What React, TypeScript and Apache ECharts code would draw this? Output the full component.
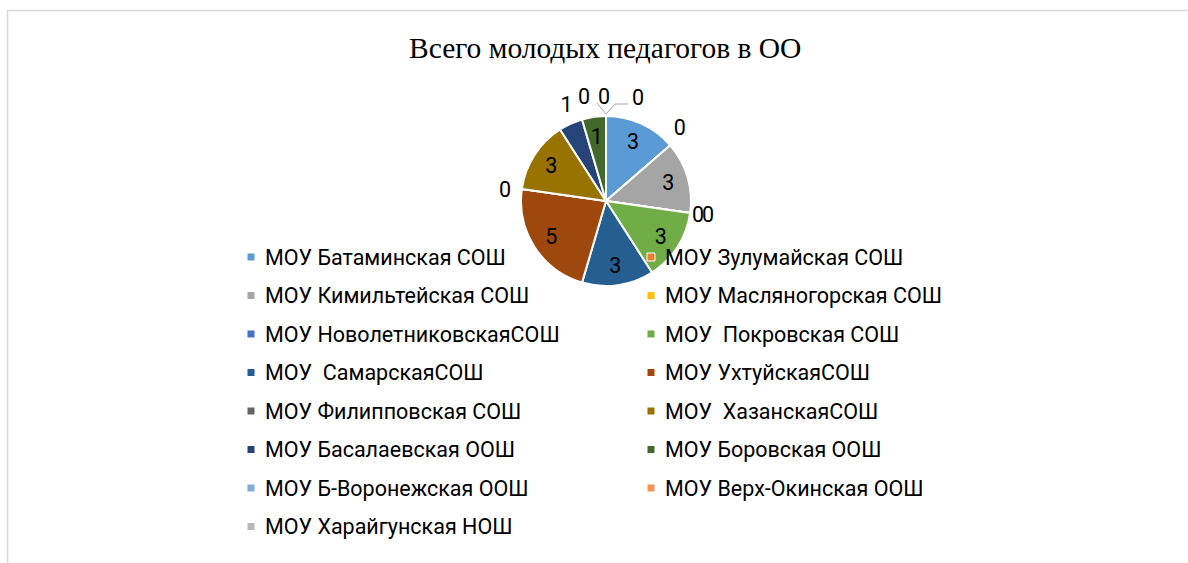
import React, { useEffect, useRef } from "react";
import * as echarts from "echarts";

const titleText = "Всего молодых педагогов в ОО";

const schools = [
  "МОУ Батаминская СОШ",
  "МОУ Зулумайская СОШ",
  "МОУ Кимильтейская СОШ",
  "МОУ Масляногорская СОШ",
  "МОУ НоволетниковскаяСОШ",
  "МОУ  Покровская СОШ",
  "МОУ  СамарскаяСОШ",
  "МОУ УхтуйскаяСОШ",
  "МОУ Филипповская СОШ",
  "МОУ  ХазанскаяСОШ",
  "МОУ Басалаевская ООШ",
  "МОУ Боровская ООШ",
  "МОУ Б-Воронежская ООШ",
  "МОУ Верх-Окинская ООШ",
  "МОУ Харайгунская НОШ",
];

const teachers = [3, 0, 3, 0, 0, 3, 3, 5, 0, 3, 1, 1, 0, 0, 0];

const colors = [
  "#5B9BD5", "#ED7D31", "#A5A5A5", "#FFC000", "#4472C4",
  "#70AD47", "#255E91", "#9E480E", "#636363", "#997300",
  "#264478", "#43682B", "#7CAFDD", "#F1975A", "#B7B7B7",
];

// schools whose value label sits outside the pie although non-zero
const outsideNonZero = ["МОУ Басалаевская ООШ"];

// label placement nudges (px) relative to the default outside label position
const nudges: Record<number, { dx: number; dy: number; top?: boolean }> = {
  1: { dx: -9, dy: -11 },
  3: { dx: -13, dy: 0 },
  4: { dx: -3, dy: 0 },
  8: { dx: 4, dy: 2 },
  10: { dx: 11, dy: -10 },
  12: { dx: -22, dy: -19, top: true },
  13: { dx: -2, dy: -19, top: true },
  14: { dx: 32, dy: -18, top: true },
};

const FONT = "Roboto, 'Noto Sans', sans-serif";

export default function App() {
  const ref = useRef<HTMLDivElement>(null);

  useEffect(() => {
    if (!ref.current) return;
    const chart = echarts.init(ref.current, null, { renderer: "svg" });

    const isOutside = (i: number) =>
      teachers[i] === 0 || outsideNonZero.includes(schools[i]);

    const mainData = schools.map((name, i) => ({
      name,
      value: teachers[i],
      itemStyle: { color: colors[i] },
      label: { show: isOutside(i) },
      labelLine: {
        show: i === 13 || i === 14,
        lineStyle: { color: "#A6A6A6", width: 1 },
      },
    }));

    const overlayData = schools.map((name, i) => ({
      name,
      value: teachers[i],
      label: { show: !isOutside(i) },
    }));

    const leftNames = schools.filter((_, i) => i % 2 === 0);
    const rightNames = schools.filter((_, i) => i % 2 === 1);

    const legendBase = {
      orient: "vertical" as const,
      top: 246,
      padding: 0,
      itemGap: 16.5,
      itemWidth: 8,
      itemHeight: 8,
      icon: "rect",
      selectedMode: false,
      itemStyle: { borderColor: "#fff", borderWidth: 1 },
      textStyle: {
        fontFamily: FONT,
        fontSize: 21.5,
        lineHeight: 22,
        color: "#000",
        padding: [0, 0, 0, 5],
      },
    };

    chart.setOption({
      animation: false,
      backgroundColor: "#fff",
      color: colors,
      title: {
        text: titleText,
        left: 409,
        top: 33,
        padding: 0,
        textStyle: {
          fontFamily: "'Liberation Serif', 'Times New Roman', serif",
          fontSize: 29.5,
          fontWeight: "normal",
          color: "#000",
        },
      },
      legend: [
        { ...legendBase, left: 246.5, data: leftNames },
        { ...legendBase, left: 646.5, data: rightNames },
      ],
      graphic: [
        {
          type: "rect",
          shape: { x: 7.5, y: 10.5, width: 1300, height: 700 },
          style: { fill: "none", stroke: "#D9D9D9", lineWidth: 1.5 },
          silent: true,
        },
      ],
      series: [
        {
          type: "pie",
          center: [606, 201],
          radius: [0, 85],
          startAngle: 90,
          clockwise: true,
          avoidLabelOverlap: false,
          minShowLabelAngle: 0,
          itemStyle: { borderColor: "#fff", borderWidth: 2 },
          label: {
            position: "outside",
            formatter: "{c}",
            fontFamily: FONT,
            fontSize: 21.5,
            color: "#000",
            distanceToLabelLine: 5,
          },
          labelLine: { length: 10, length2: 0 },
          labelLayout: (p: any) => {
            const n = nudges[p.dataIndex];
            if (!n) return {};
            if (n.top) {
              const x0 = p.rect.x + p.rect.width / 2;
              const y0 = p.rect.y;
              const res: any = {
                x: x0 + n.dx,
                y: y0 + n.dy,
                align: "center",
                verticalAlign: "middle",
              };
              if (p.dataIndex === 13) {
                res.labelLinePoints = [
                  [x0, y0 - 1],
                  [x0 - 9, y0 - 12],
                  [x0 - 9, y0 - 12],
                ];
              } else if (p.dataIndex === 14) {
                res.labelLinePoints = [
                  [x0, y0 - 1],
                  [x0 + 9, y0 - 11],
                  [x0 + 22, y0 - 11],
                ];
              }
              return res;
            }
            const r = p.labelRect;
            return {
              x: r.x + r.width / 2 + n.dx,
              y: r.y + r.height / 2 + n.dy,
              align: "center",
              verticalAlign: "middle",
            };
          },
          data: mainData,
        },
        {
          type: "pie",
          center: [606, 201],
          radius: [39, 85],
          startAngle: 90,
          clockwise: true,
          silent: true,
          avoidLabelOverlap: false,
          itemStyle: { color: "transparent", borderWidth: 0 },
          label: {
            position: "inside",
            formatter: "{c}",
            fontFamily: FONT,
            fontSize: 21.5,
            color: "#000",
          },
          labelLine: { show: false },
          emphasis: { disabled: true },
          data: overlayData,
        },
      ],
    });

    return () => chart.dispose();
  }, []);

  return (
    <div
      ref={ref}
      style={{ position: "absolute", left: 0, top: 0, width: 1188, height: 563 }}
    />
  );
}
